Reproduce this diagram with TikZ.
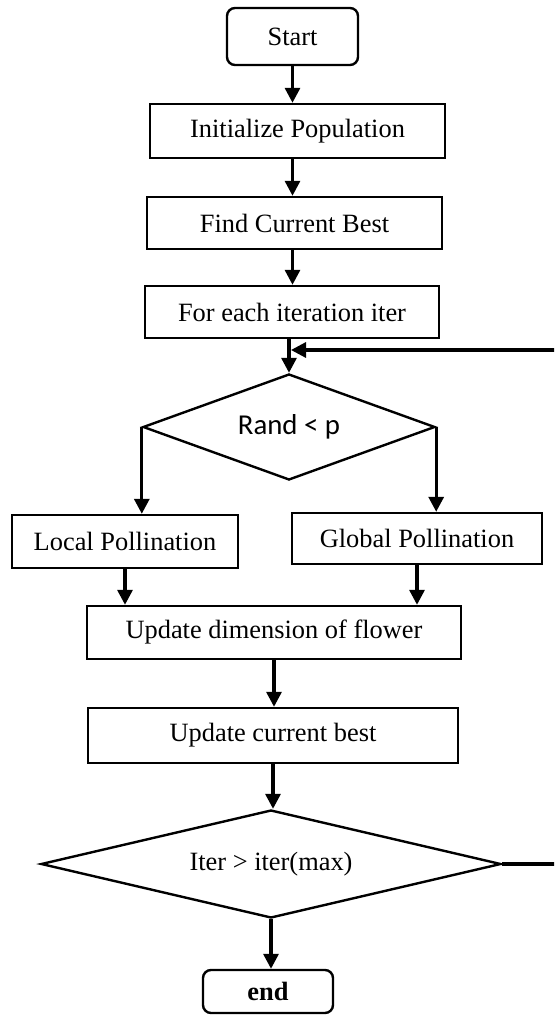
\documentclass[tikz,border=0pt]{standalone}
\usepackage{fontspec}
\setmainfont{Liberation Serif}
\newfontfamily\calibrifont{Carlito}
\usetikzlibrary{shapes.geometric,arrows.meta}

\begin{document}
\begin{tikzpicture}[x=0.5pt,y=-0.5pt,
               font=\fontsize{13.2pt}{15pt}\selectfont,
               proc/.style={draw,line width=1.2pt,inner sep=0pt},
               term/.style={draw,line width=1.2pt,rounded corners=4pt,inner sep=0pt},
               dec/.style={draw,diamond,aspect=3,line width=1.2pt,inner sep=0pt},
               arr/.style={line width=1.6pt,-{Triangle[length=7.5pt,width=7.5pt]}}]
               \useasboundingbox (0,0) rectangle (554,1015);
               \clip (0,0) rectangle (554,1015);
               \node[term,minimum width=65.5pt,minimum height=28.5pt] (start) at (292.5,36.5) {Start};
               \node[proc,minimum width=147.5pt,minimum height=27pt] (init) at (297.5,131) {Initialize Population};
               \node[proc,minimum width=147.5pt,minimum height=26pt] (find) at (294.5,223) {Find Current Best};
               \node[proc,minimum width=147pt,minimum height=26pt] (iter) at (292,312) {For each iteration iter};
               \node[dec,minimum width=146pt,minimum height=53pt,font=\calibrifont\fontsize{14.4pt}{17pt}\selectfont] (rand) at (289,427) {Rand < p};
               \node[proc,minimum width=113pt,minimum height=26.5pt] (local) at (125,541.5) {Local Pollination};
               \node[proc,minimum width=125pt,minimum height=25.5pt] (global) at (417,538.5) {Global Pollination};
               \node[proc,minimum width=187pt,minimum height=26.5pt] (upd) at (274,632.5) {Update dimension of flower};
               \node[proc,minimum width=185pt,minimum height=27.5pt] (best) at (273,735.5) {Update current best};
               \node[dec,minimum width=230pt,minimum height=54pt] (check) at (271,864) {Iter > iter(max)};
               \node[term,minimum width=65pt,minimum height=21.5pt,font=\bfseries\fontsize{13.2pt}{15pt}\selectfont] (end) at (268,991.5) {end};
               \coordinate (jn) at (291,350);
               \draw[arr] (start.south) -- (start.south |- init.north);
               \draw[arr] (start.south |- init.south) -- (start.south |- find.north);
               \draw[arr] (start.south |- find.south) -- (start.south |- iter.north);
               \draw[arr] (rand.north |- iter.south) -- (rand.north);
               \draw[arr] (rand.west) -- (rand.west |- local.north);
               \draw[arr] (rand.east) -- (rand.east |- global.north);
               \draw[arr] (local.south) -- (local.south |- upd.north);
               \draw[arr] (global.south) -- (global.south |- upd.north);
               \draw[arr] (upd.south) -- (upd.south |- best.north);
               \draw[arr] (best.south) -- (best.south |- check.north);
               \draw[arr] (check.south) -- (check.south |- end.north);
               \draw[arr] (check.east) -- ++(80,0) |- (jn);
            \end{tikzpicture}
\end{document}
